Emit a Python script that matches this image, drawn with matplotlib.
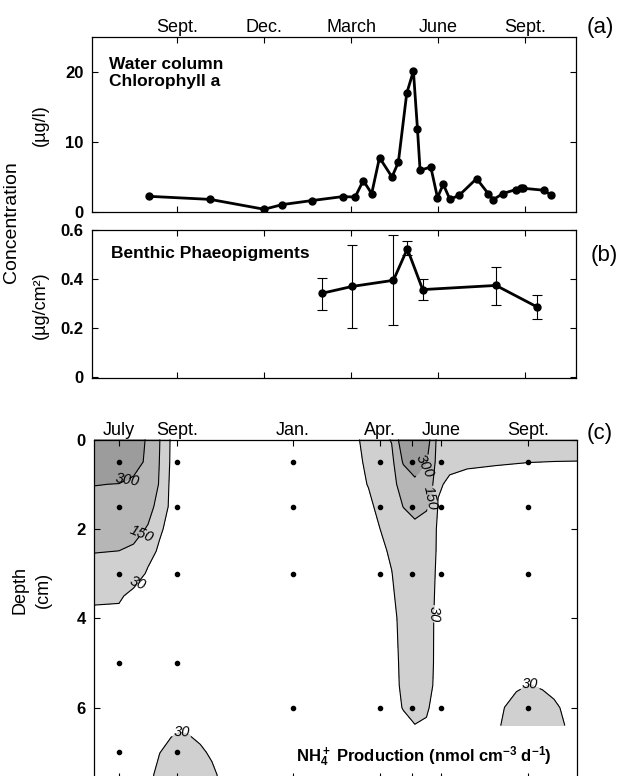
import numpy as np
import matplotlib
matplotlib.use("Agg")
import matplotlib.pyplot as plt

plt.rcParams['font.family'] = 'Liberation Sans'
plt.rcParams['mathtext.fontset'] = 'custom'
plt.rcParams['mathtext.rm'] = 'Liberation Sans:bold'
plt.rcParams['mathtext.it'] = 'Liberation Sans:bold'
plt.rcParams['mathtext.bf'] = 'Liberation Sans:bold'

# time is in months counted from January of the first year (Sept. = 8, June = 17)
month_ticks = [8, 11, 14, 17, 20]
month_names = ['Sept.', 'Dec.', 'March', 'June', 'Sept.']

# (a) water column chlorophyll a, ug/l
chl_month = [7.03, 9.14, 11.0, 11.63, 12.64, 13.71, 14.14, 14.42, 14.71, 14.98,
             15.41, 15.63, 15.92, 16.15, 16.29, 16.38, 16.75, 16.98, 17.18, 17.41,
             17.73, 18.33, 18.73, 18.91, 19.23, 19.68, 19.85, 19.94, 20.67, 20.89]
chl_value = [2.24, 1.8, 0.39, 1.06, 1.63, 2.2, 2.14, 4.49, 2.63, 7.77,
             5.0, 7.1, 16.96, 20.14, 11.86, 5.96, 6.43, 2.06, 3.96, 1.81,
             2.39, 4.77, 2.63, 1.77, 2.63, 3.2, 3.43, 3.39, 3.1, 2.39]

# (b) benthic phaeopigments, ug/cm2, with range
phaeo_month = [13.0, 14.04, 15.46, 15.94, 16.47, 19.0, 20.4]
phaeo_value = [0.342, 0.37, 0.395, 0.524, 0.357, 0.374, 0.287]
phaeo_low = [0.275, 0.198, 0.21, 0.50, 0.315, 0.295, 0.237]
phaeo_high = [0.405, 0.54, 0.58, 0.555, 0.40, 0.448, 0.336]

# (c) sampling stations and depths (cm)
station_month = [6.0, 8.0, 12.0, 15.0, 16.1, 17.1, 20.1]
station_names = ['July', 'Sept.', 'Jan.', 'Apr.', '', 'June', 'Sept.']
station_depths = [[0.5, 1.5, 3, 5, 7], [0.5, 1.5, 3, 5, 7], [0.5, 1.5, 3, 6],
                  [0.5, 1.5, 3, 6], [0.5, 1.5, 3, 6], [0.5, 1.5, 3, 6],
                  [0.5, 1.5, 3, 6]]

# NH4+ production fields (nmol cm-3 d-1), rows = depth, columns = month
summer_month = [5.0, 6.0, 6.5, 7.0, 7.4, 7.8]
summer_depth = [0, 0.5, 1.0, 1.5, 2.0, 2.5, 3.0, 3.5, 4.0]
summer_rate = [[460, 450, 400, 275, 153, 16],
               [420, 410, 370, 265, 147, 13],
               [305, 297, 261, 215, 143, 2],
               [255, 250, 225, 185, 115, 0],
               [205, 200, 186, 141, 43, 0],
               [155, 149, 133, 63, 16, 0],
               [105, 100, 86, 16, 0, 0],
               [52, 45, 0, 0, 0, 0],
               [0, 0, 0, 0, 0, 0]]

spring_month = [14.0, 14.6, 15.0, 15.4, 15.8, 16.2, 16.6, 16.8, 17.0, 17.4,
                18.0, 19.0, 20.1, 21.0, 21.9]
spring_depth = [0, 0.5, 1.0, 1.5, 2.0, 2.5, 3.0, 4.0, 5.0, 5.5, 6.0, 6.5]
spring_rate = [[0, 62, 105, 158, 405, 460, 340, 273, 84, 80, 70, 60, 60, 60, 60],
               [0, 45, 80, 115, 315, 430, 305, 255, 45, 44, 44, 36, 31, 29.5, 28.8],
               [0, 33, 75, 120, 190, 239, 225, 162, 38, 20, 0, 0, 0, 0, 0],
               [0, 15, 48, 92, 152, 200, 159, 122, 25, 0, 0, 0, 0, 0, 0],
               [0, 0, 30, 68, 100, 111, 114, 80, 9, 0, 0, 0, 0, 0, 0],
               [0, 0, 15, 40, 80, 95, 90, 65, 11, 0, 0, 0, 0, 0, 0],
               [0, 0, 5, 28, 70, 85, 78, 55, 5, 0, 0, 0, 0, 0, 0],
               [0, 0, 0, 10, 54, 70, 60, 40, 0, 0, 0, 0, 0, 0, 0],
               [0, 0, 0, 5, 47, 62, 55, 38, 0, 0, 0, 0, 0, 0, 0],
               [0, 0, 0, 0, 46, 58, 50, 33, 0, 0, 0, 0, 0, 0, 0],
               [0, 0, 0, 0, 34, 50, 45, 12, 0, 0, 0, 0, 0, 0, 0],
               [0, 0, 0, 0, 0, 23, 10, 0, 0, 0, 0, 0, 0, 0, 0]]

autumn_month = [7.0, 7.4, 7.8, 8.1, 8.4, 8.8, 9.2, 9.6]
autumn_depth = [6.2, 6.5, 7.0, 7.5, 8.0]
autumn_rate = [[0, 0, 0, 0, 0, 0, 0, 0],
               [0, 0, 15, 25, 20, 0, 0, 0],
               [0, 28, 62, 80, 70, 47, 15, 0],
               [0, 61, 85, 110, 100, 75, 52, 3],
               [5, 70, 95, 120, 110, 85, 60, 8]]

late_month = [18.9, 19.3, 19.7, 20.15, 20.6, 21.0, 21.4, 21.7]
late_depth = [5.2, 5.5, 6.0, 6.4]
late_rate = [[0, 0, 0, 0, 0, 0, 0, 0],
             [0, 0, 20, 32, 22, 5, 0, 0],
             [0, 31, 55, 70, 62, 45, 15, 0],
             [0, 46, 65, 78, 72, 55, 28, 0]]

levels = [30, 150, 300]
fills = ['#d0d0d0', '#b6b6b6', '#9c9c9c']

W, H = 621, 776
fig = plt.figure(figsize=(W / 100, H / 100), dpi=100)


def px_axes(left, top, right, bottom):
    return fig.add_axes([left / W, 1 - bottom / H, (right - left) / W, (bottom - top) / H])


def style(ax):
    ax.tick_params(direction='in', length=4, width=0.8, top=True, right=True,
                   labelsize=12)
    for s in ax.spines.values():
        s.set_linewidth(0.9)
    for t in ax.get_yticklabels():
        t.set_fontweight('bold')


# (a) chlorophyll
ax1 = px_axes(92, 37, 576, 212)
ax1.plot(chl_month, chl_value, '-o', color='k', lw=2, ms=5)
ax1.set_xlim(5.06, 21.76)
ax1.set_ylim(0, 25)
ax1.set_xticks(month_ticks)
ax1.set_xticklabels(month_names)
ax1.set_yticks([0, 10, 20])
style(ax1)
ax1.tick_params(axis='x', labeltop=True, labelbottom=False, labelsize=13, pad=0.5)
ax1.tick_params(axis='y', pad=6)
ax1.text(0.036, 0.885, 'Water column\nChlorophyll a', transform=ax1.transAxes,
         fontsize=12.5, fontweight='bold', va='top', ha='left', linespacing=1.15)

# (b) phaeopigments
ax2 = px_axes(92, 230, 576, 378)
err = [np.subtract(phaeo_value, phaeo_low), np.subtract(phaeo_high, phaeo_value)]
ax2.errorbar(phaeo_month, phaeo_value, yerr=err, fmt='-o', color='k', lw=2, ms=5,
             elinewidth=0.8, capsize=3.5, capthick=0.8)
ax2.set_xlim(5.06, 21.76)
ax2.set_ylim(-0.005, 0.601)
ax2.set_xticks(month_ticks)
ax2.set_xticklabels([])
ax2.set_yticks([0, 0.2, 0.4, 0.6])
ax2.set_yticklabels(['0', '0.2', '0.4', '0.6'])
style(ax2)
ax2.tick_params(axis='y', pad=6)
ax2.text(0.04, 0.84, 'Benthic Phaeopigments', transform=ax2.transAxes,
         fontsize=12.5, fontweight='bold', va='center', ha='left')

# (c) NH4+ production, depth vs time
ax3 = px_axes(94.3, 439.5, 577.3, 779.2)


def shade(months, depths, rate, spots):
    ax3.contourf(months, depths, rate, levels=[30, 150, 300, 1000], colors=fills)
    cl = ax3.contour(months, depths, rate, levels=levels, colors='k', linewidths=0.8)
    txt = ax3.clabel(cl, fmt='%d', fontsize=10.5, inline=True, inline_spacing=2,
                     manual=spots)
    for t in txt:
        t.set_fontstyle('italic')


shade(summer_month, summer_depth, summer_rate, [(6.27, 0.9), (6.78, 2.12), (6.67, 3.36)])
shade(spring_month, spring_depth, spring_rate, [(16.44, 0.56), (16.72, 1.3), (16.84, 3.9)])
shade(autumn_month, autumn_depth, autumn_rate, [(8.16, 6.54)])
shade(late_month, late_depth, late_rate, [(20.17, 5.48)])

for m, ds in zip(station_month, station_depths):
    ax3.plot([m] * len(ds), ds, 'o', color='k', ms=3, zorder=4)

ax3.set_xlim(5.148, 21.8)
ax3.set_ylim(7.6, 0)
ax3.set_xticks(station_month)
ax3.set_xticklabels(station_names)
ax3.set_yticks([0, 2, 4, 6])
style(ax3)
ax3.tick_params(axis='x', labeltop=True, labelbottom=False, labelsize=13, pad=0)
ax3.tick_params(axis='y', pad=6)
ax3.text(16.52, 7.21, r'NH$_4^+$ Production (nmol cm$^{-3}$ d$^{-1}$)',
         fontsize=12, fontweight='bold', ha='center', va='baseline')

# axis titles and panel letters
fig.text(12 / W, 1 - 222 / H, 'Concentration', rotation=90, fontsize=14,
         ha='center', va='center')
fig.text(40 / W, 1 - 125 / H, '(µg/l)', rotation=90, fontsize=13,
         ha='center', va='center')
fig.text(40 / W, 1 - 305 / H, '(µg/cm²)', rotation=90, fontsize=13,
         ha='center', va='center')
fig.text(20 / W, 1 - 590 / H, 'Depth', rotation=90, fontsize=13,
         ha='center', va='center')
fig.text(43 / W, 1 - 590 / H, '(cm)', rotation=90, fontsize=13,
         ha='center', va='center')
fig.text(600 / W, 1 - 28 / H, '(a)', fontsize=16, ha='center', va='center')
fig.text(604 / W, 1 - 255 / H, '(b)', fontsize=16, ha='center', va='center')
fig.text(600 / W, 1 - 433 / H, '(c)', fontsize=16, ha='center', va='center')

fig.savefig('out.png', dpi=100)
